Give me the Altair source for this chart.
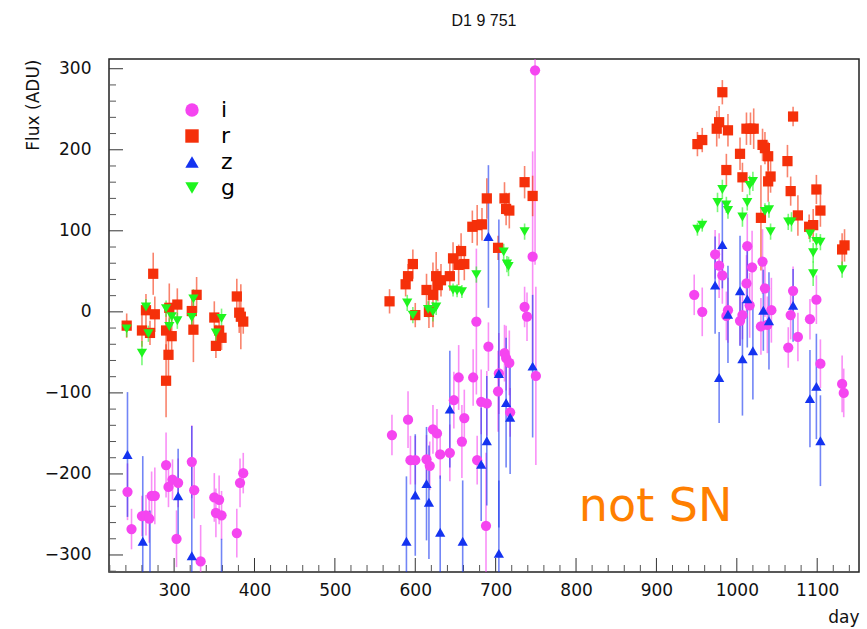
import altair as alt
import pandas as pd

# ---------------- data ----------------
bands = ["i", "r", "z", "g"]
band_colors = ["#f545f0", "#f5300a", "#1433f0", "#1ef51e"]
band_shapes = ["circle", "square", "triangle-up", "triangle-down"]

i_day = [242, 247, 260, 265, 269, 272, 276, 290, 293, 298, 305, 303, 322, 325, 333, 350, 356, 352, 359, 378, 382, 386,
         571, 591, 594, 600, 614, 618, 622, 627, 631, 643, 648, 654, 661, 658, 672, 676, 677, 682, 689, 691, 688, 703,
         704, 711, 713, 717, 718, 736, 739, 746, 749, 750,
         947, 957, 973, 978, 982, 989, 987, 1013, 1019, 1012, 1016, 1007, 1004, 1032, 1035, 1030, 1038, 1043, 1070,
         1067, 1064, 1076, 1091, 1099, 1104, 1131, 1133]
i_flux = [-222, -268, -252, -251, -255, -227, -227, -189, -216, -207, -211, -280, -185, -220, -308, -229, -232, -248,
          -251, -273, -211, -199,
          -152, -133, -183, -183, -182, -190, -145, -150, -176, -174, -109, -81, -131, -160, -81, -12, -183, -111,
          -113, -43, -264, -98, -76, -51, -57, -63, -124, 6, -6, 68, 298, -79,
          21, 0, 71, 57, 45, 2, -5, 81, 55, 35, 8, -4, -11, 62, 29, -18, -16, 2, 26, -4, -44, -31, -9, 15, -64, -89,
          -100]
i_err = [35, 25, 25, 25, 30, 30, 35, 40, 25, 25, 30, 35, 45, 35, 45, 30, 30, 30, 30, 30, 30, 25,
         25, 35, 30, 30, 30, 30, 30, 30, 30, 35, 35, 40, 35, 45, 35, 90, 30, 40, 40, 30, 90, 50, 50, 35, 40, 40, 30,
         25, 30, 130, 240, 110,
         25, 30, 30, 40, 35, 40, 30, 40, 45, 35, 40, 30, 30, 40, 35, 35, 35, 40, 30, 30, 25, 30, 25, 30, 30, 35, 30]

r_day = [241, 274, 265, 276, 260, 270, 293, 290, 290, 294, 297, 304, 328, 322, 324, 350, 352, 356, 359, 378, 381, 383,
         386,
         568, 588, 591, 597, 600, 614, 617, 622, 626, 628, 632, 643, 647, 654, 657, 661, 671, 677, 683, 689, 703, 711,
         713, 717, 736, 746,
         951, 957, 975, 978, 982, 989, 987, 1004, 1007, 1012, 1017, 1021, 1032, 1035, 1039, 1042, 1039, 1030, 1063,
         1070, 1067, 1076, 1090, 1095, 1099, 1104, 1131, 1134]
r_flux = [-17, 47, 2, -3, -23, -26, -53, -85, -23, 5, -30, 9, 21, 1, -22, -7, -42, -23, -32, 19, -1, -6, -12,
          13, 34, 44, 59, -4, 27, 0, 21, 44, 33, 39, 44, 66, 58, 75, 59, 105, 107, 108, 140, 79, 140, 127, 125, 160,
          143,
          207, 212, 226, 234, 271, 224, 175, 195, 166, 226, 226, 226, 206, 202, 192, 167, 161, 116, 186, 241, 149,
          119, 105, 107, 151, 125, 77, 82]
r_err = [15, 26, 20, 22, 20, 15, 30, 45, 30, 30, 25, 20, 22, 20, 40, 20, 15, 15, 15, 22, 25, 40, 15,
         15, 15, 15, 18, 15, 20, 20, 40, 30, 20, 20, 18, 20, 25, 22, 20, 20, 25, 20, 25, 15, 20, 20, 22, 20, 25,
         15, 15, 22, 20, 15, 20, 20, 20, 18, 20, 20, 25, 20, 20, 18, 20, 25, 65, 20, 12, 18, 25, 15, 20, 18, 20, 20,
         20]

z_day = [242, 261, 270, 305, 322, 359,
         589, 600, 614, 617, 631, 643, 659, 682, 689, 691, 704, 704, 713, 718, 746,
         982, 973, 989, 1004, 1013, 1033, 1040, 1070, 978, 1007, 1020, 1091, 1099, 1104]
z_flux = [-176, -283, -345, -227, -301, -350,
          -283, -226, -212, -235, -272, -120, -283, -188, -159, 93, -76, -298, -112, -130, -67,
          83, 33, -3, 26, 16, 2, -11, 8, -81, -58, -48, -107, -92, -159]
z_err = [77, 105, 100, 58, 160, 70,
         80, 75, 70, 70, 70, 72, 75, 70, 80, 88, 190, 90, 80, 70, 88,
         54, 60, 60, 68, 60, 50, 60, 45, 56, 70, 60, 60, 65, 56]

g_day = [241, 260, 265, 268, 290, 294, 297, 304, 324, 322, 359, 352,
         590, 597, 616, 622, 626, 647, 652, 658, 676, 710, 714, 716, 736,
         951, 957, 976, 987, 982, 989, 1007, 1013, 1016, 1020, 1035, 1040, 1042, 1064, 1068, 1091, 1099, 1104, 1095,
         1095, 1131]
g_flux = [-21, -51, 6, -27, 4, -18, -6, -11, 16, -7, -8, -26,
          11, -4, 3, 0, 6, 27, 26, 25, 46, 74, 59, 56, 99,
          102, 107, 135, 132, 151, 125, 117, 135, 156, 161, 124, 126, 99, 111, 111, 96, 87, 86, 73, 47, 52]
g_err = [10, 15, 10, 10, 10, 10, 12, 10, 12, 10, 12, 10,
         10, 10, 10, 12, 10, 8, 8, 8, 10, 10, 10, 12, 10,
         8, 8, 12, 10, 12, 10, 12, 10, 12, 12, 10, 10, 10, 10, 12, 10, 10, 10, 12, 15, 10]

x_major = [300, 400, 500, 600, 700, 800, 900, 1000, 1100]
x_minor = [v for v in range(220, 1151, 20) if v % 100 != 0]
y_major = [-300, -200, -100, 0, 100, 200, 300]
y_minor = [v for v in range(-320, 311, 20) if v % 100 != 0]

note_text = ["not SN"]
note_day = [899]
note_flux = [-258]

# ---------------- build table ----------------
frames = []
for b, d, f, e in [("i", i_day, i_flux, i_err), ("r", r_day, r_flux, r_err),
                   ("z", z_day, z_flux, z_err), ("g", g_day, g_flux, g_err)]:
    df = pd.DataFrame({"day": d, "flux": f, "err": e})
    df["band"] = b
    frames.append(df)
data = pd.concat(frames, ignore_index=True)
data["lo"] = data["flux"] - data["err"]
data["hi"] = data["flux"] + data["err"]
data["order"] = data["band"].map({b: k for k, b in enumerate(bands)})

W, H = 750, 513
FONT = "DejaVu Sans"
xscale = alt.Scale(domain=[219, 1152], nice=False, zero=False)
yscale = alt.Scale(domain=[-321, 312], nice=False, zero=False)
cscale = alt.Scale(domain=bands, range=band_colors)
sscale = alt.Scale(domain=bands, range=band_shapes)

xaxis = alt.Axis(title="day", values=x_major, format="d", ticks=False, domain=False, grid=False,
                 labelFont=FONT, labelFontSize=17, labelColor="#111", labelPadding=10,
                 titleFont=FONT, titleFontSize=17, titleFontWeight="normal", titleColor="#111",
                 titleAlign="right", titleX=W, titleY=50, titleBaseline="alphabetic")
yaxis = alt.Axis(title="Flux (ADU)", values=y_major, format="d", ticks=False, domain=False, grid=False,
                 labelFont=FONT, labelFontSize=17, labelColor="#111", labelPadding=18,
                 titleFont=FONT, titleFontSize=17, titleFontWeight="normal", titleColor="#111",
                 titleAngle=270, titleAlign="right", titleBaseline="middle",
                 titleX=-76, titleY=0)
legend = alt.Legend(orient="none", legendX=72, legendY=40, title=None,
                    labelFont=FONT, labelFontSize=22, labelColor="#000",
                    symbolSize=180, symbolStrokeWidth=0, symbolOpacity=1,
                    rowPadding=4, labelOffset=18, padding=0)

base = alt.Chart(data)

errbars = base.mark_rule(strokeWidth=1.6, opacity=0.6, clip=True).encode(
    x=alt.X("day:Q", scale=xscale, axis=xaxis),
    y=alt.Y("lo:Q", scale=yscale, axis=yaxis),
    y2="hi:Q",
    color=alt.Color("band:N", scale=cscale, legend=None),
    order="order:Q",
)

points = base.mark_point(filled=True, size=105, opacity=1, clip=True).encode(
    x=alt.X("day:Q", scale=xscale, axis=xaxis),
    y=alt.Y("flux:Q", scale=yscale, axis=yaxis),
    color=alt.Color("band:N", scale=cscale, legend=legend),
    shape=alt.Shape("band:N", scale=sscale, legend=legend),
    order="order:Q",
)

xmaj = alt.Chart(pd.DataFrame({"day": x_major})).mark_rule(color="#333", strokeWidth=1).encode(
    x=alt.X("day:Q", scale=xscale, axis=xaxis), y=alt.value(H), y2=alt.value(H - 14))
xmin = alt.Chart(pd.DataFrame({"day": x_minor})).mark_rule(color="#555", strokeWidth=1).encode(
    x=alt.X("day:Q", scale=xscale, axis=xaxis), y=alt.value(H), y2=alt.value(H - 7))
ymaj = alt.Chart(pd.DataFrame({"flux": y_major})).mark_rule(color="#333", strokeWidth=1).encode(
    y=alt.Y("flux:Q", scale=yscale, axis=yaxis), x=alt.value(0), x2=alt.value(14))
ymin = alt.Chart(pd.DataFrame({"flux": y_minor})).mark_rule(color="#555", strokeWidth=1).encode(
    y=alt.Y("flux:Q", scale=yscale, axis=yaxis), x=alt.value(0), x2=alt.value(7))

note = alt.Chart(pd.DataFrame({"day": note_day, "flux": note_flux, "txt": note_text})).mark_text(
    color="#ff7f00", fontSize=46, font="Comic Sans MS, DejaVu Sans", align="center", baseline="alphabetic"
).encode(x=alt.X("day:Q", scale=xscale, axis=xaxis), y=alt.Y("flux:Q", scale=yscale, axis=yaxis), text="txt:N")

chart = alt.layer(xmin, xmaj, ymin, ymaj, errbars, points, note).resolve_legend(
    color="independent", shape="independent"
).properties(
    width=W, height=H,
    title=alt.TitleParams("D1 9 751", font="Liberation Sans Narrow, Liberation Sans", fontSize=16,
                          fontWeight="normal", color="#111", anchor="middle", offset=17,
                          baseline="alphabetic"),
    autosize=alt.AutoSizeParams(type="none"),
    padding={"left": 109, "top": 59, "right": 8, "bottom": 57},
    background="white",
).configure_view(stroke="#222", strokeWidth=1.5)

chart.save("out.html", embed_options={"renderer": "svg", "actions": False})
